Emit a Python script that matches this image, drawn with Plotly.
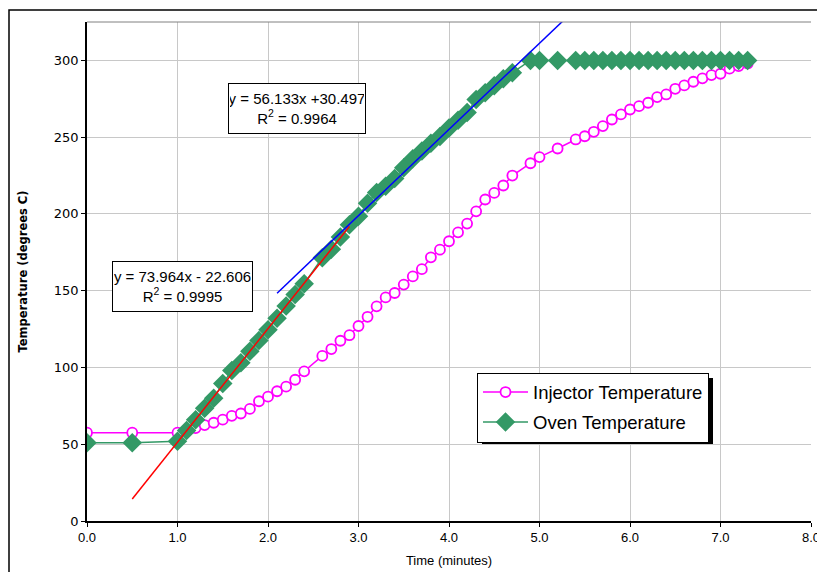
import plotly.graph_objects as go

# ---- data ----
time_min = [0.0, 0.5, 1.0, 1.1, 1.2, 1.3, 1.4, 1.5, 1.6, 1.7, 1.8, 1.9, 2.0, 2.1, 2.2, 2.3, 2.4,
            2.6, 2.7, 2.8, 2.9, 3.0, 3.1, 3.2, 3.3, 3.4, 3.5, 3.6, 3.7, 3.8, 3.9, 4.0, 4.1, 4.2,
            4.3, 4.4, 4.5, 4.6, 4.7, 4.9, 5.0, 5.2, 5.4, 5.5, 5.6, 5.7, 5.8, 5.9, 6.0, 6.1, 6.2,
            6.3, 6.4, 6.5, 6.6, 6.7, 6.8, 6.9, 7.0, 7.1, 7.2, 7.3]
injector_temp = [57.5, 57.5, 57.5, 59.0, 60.5, 62.5, 64.0, 66.0, 68.5, 70.0, 73.0, 78.0, 81.0,
                 84.5, 87.5, 92.0, 97.5, 107.5, 112.0, 117.4, 121.0, 127.0, 133.0, 139.8, 145.6,
                 148.5, 154.0, 159.3, 164.0, 171.7, 176.7, 182.2, 188.0, 193.7, 201.7, 209.4,
                 213.7, 218.5, 225.0, 233.0, 237.0, 242.6, 248.5, 250.6, 253.5, 257.2, 261.5,
                 264.8, 268.0, 270.2, 272.4, 276.1, 277.8, 281.5, 283.7, 286.1, 288.3, 290.4,
                 291.3, 294.6, 296.3, 298.0]
oven_temp = [51.0, 51.0, 52.0, 59.0, 66.0, 73.5, 80.0, 89.5, 98.0, 103.0, 110.5, 117.5, 124.5,
             132.0, 140.0, 147.5, 154.5, 171.5, 177.0, 185.0, 193.0, 198.5, 207.0, 214.0, 218.0,
             223.0, 230.0, 236.0, 241.0, 246.0, 250.5, 256.0, 261.0, 266.0, 274.5, 279.0, 283.5,
             288.0, 292.0, 300.0, 300.0, 300.0, 300.0, 300.0, 300.0, 300.0, 300.0, 300.0, 300.0,
             300.0, 300.0, 300.0, 300.0, 300.0, 300.0, 300.0, 300.0, 300.0, 300.0, 300.0, 300.0,
             300.0]

# trendlines (from the equations shown on the chart)
trend_red_slope, trend_red_intercept = 73.964, -22.606
trend_red_x = [0.5, 2.9]
trend_blue_slope, trend_blue_intercept = 56.133, 30.497
trend_blue_x = [2.1, 5.5]

x_ticks = [0, 1, 2, 3, 4, 5, 6, 7, 8]
x_tick_labels = ["0.0", "1.0", "2.0", "3.0", "4.0", "5.0", "6.0", "7.0", "8.0"]
y_ticks = [0, 50, 100, 150, 200, 250, 300]

fig = go.Figure()

fig.add_trace(go.Scatter(
    x=time_min, y=injector_temp, name="Injector Temperature", mode="lines+markers",
    legendgroup="inj",
    line=dict(color="#FF00FF", width=1.5),
    marker=dict(symbol="circle", size=10, color="white", line=dict(color="#FF00FF", width=1.8)),
))
fig.add_trace(go.Scatter(
    x=time_min, y=oven_temp, name="Oven Temperature", mode="lines+markers",
    legendgroup="oven",
    line=dict(color="#339966", width=1.5),
    marker=dict(symbol="diamond", size=15, color="#339966", line=dict(width=0)),
))
fig.add_trace(go.Scatter(
    x=trend_red_x, y=[trend_red_slope * v + trend_red_intercept for v in trend_red_x],
    mode="lines", line=dict(color="#FF0000", width=1.5), showlegend=False, hoverinfo="skip",
))
fig.add_trace(go.Scatter(
    x=trend_blue_x, y=[trend_blue_slope * v + trend_blue_intercept for v in trend_blue_x],
    mode="lines", line=dict(color="#0000FF", width=1.5), showlegend=False, hoverinfo="skip",
))

# layout geometry (pixels)
L, R, T, B = 87, 811, 22, 521
W, H = 817, 572
pw, ph = R - L, B - T

def px(xp):
    return (xp - L) / pw

def py(yp):
    return (B - yp) / ph

shapes = [
    # outer chart border
    dict(type="rect", xref="paper", yref="paper", x0=px(9), x1=px(830), y0=py(585), y1=py(10),
         line=dict(color="black", width=1.5), fillcolor="rgba(0,0,0,0)", layer="below"),
    # plot area top edge
    dict(type="line", xref="paper", yref="paper", x0=0, x1=1, y0=1, y1=1,
         line=dict(color="#808080", width=1)),
    # legend shadow
    dict(type="rect", xref="paper", yref="paper", x0=px(482), x1=px(713), y0=py(444), y1=py(378),
         line=dict(width=0), fillcolor="black", layer="above"),
]

ann_font = dict(family="Liberation Sans, Arial, sans-serif", size=15, color="black")
annotations = [
    dict(x=2.32, y=268.8, xref="x", yref="y", showarrow=False,
         text="y = 56.133x +30.497<br>R<sup>2</sup> = 0.9964", font=ann_font,
         width=134, height=47, bgcolor="white", bordercolor="black", borderwidth=1,
         borderpad=1, align="center", valign="middle"),
    dict(x=1.052, y=152.5, xref="x", yref="y", showarrow=False,
         text="y = 73.964x - 22.606<br>R<sup>2</sup> = 0.9995", font=ann_font,
         width=137, height=47, bgcolor="white", bordercolor="black", borderwidth=1,
         borderpad=1, align="center", valign="middle"),
]

fig.update_layout(
    width=W, height=H,
    margin=dict(l=L, r=W - R, t=T, b=H - B, pad=0, autoexpand=False),
    paper_bgcolor="white", plot_bgcolor="white",
    font=dict(family="Liberation Sans, Arial, sans-serif", size=12, color="black"),
    shapes=shapes, annotations=annotations,
    legend=dict(x=px(477), y=py(372.5), xanchor="left", yanchor="top",
                bgcolor="white", bordercolor="black", borderwidth=1,
                font=dict(family="Liberation Sans, Arial, sans-serif", size=18.5, color="black"),
                itemwidth=45, traceorder="grouped", tracegroupgap=3),
    xaxis=dict(range=[0, 8], tickvals=x_ticks, ticktext=x_tick_labels, automargin=False,
               ticklabeloverflow="allow",
               showgrid=True, gridcolor="#C8C8C8", gridwidth=1,
               showline=True, linecolor="black", linewidth=1.5,
               ticks="outside", ticklen=4, tickcolor="black",
               tickfont=dict(family="Liberation Sans, Arial, sans-serif", size=13),
               title=dict(text="Time (minutes)", standoff=12,
                          font=dict(family="Liberation Sans, Arial, sans-serif", size=13)),
               zeroline=False),
    yaxis=dict(range=[0, 325], tickvals=y_ticks, automargin=False,
               showgrid=True, gridcolor="#C8C8C8", gridwidth=1,
               showline=True, linecolor="black", linewidth=1.5,
               ticks="outside", ticklen=4, tickcolor="black",
               tickfont=dict(family="DejaVu Sans, sans-serif", size=13),
               title=dict(text="<b>Temperature (degrees C)</b>", standoff=24,
                          font=dict(family="DejaVu Sans, sans-serif", size=11.5)),
               zeroline=False),
)

fig.write_html("out.html", config={"displayModeBar": False},
               post_script="document.body.style.margin='0';")
